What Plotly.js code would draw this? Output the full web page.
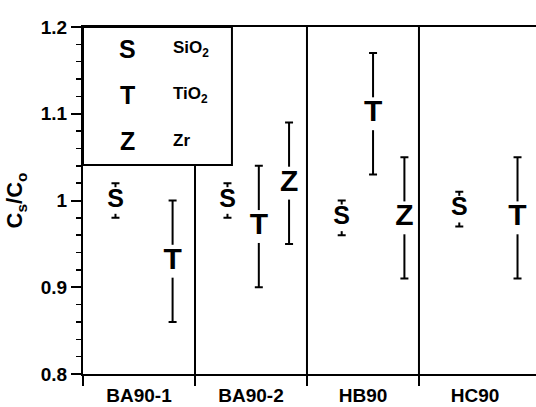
<!DOCTYPE html>
<html>
<head>
<meta charset="utf-8">
<script src="https://cdn.plot.ly/plotly-3.0.1.min.js"></script>
<style>html,body{margin:0;padding:0;background:#fff;}#chart{width:536px;height:407px;}</style>
</head>
<body>
<div id="chart"></div>
<script>
// Samples (categories)
const categories = ['BA90-1', 'BA90-2', 'HB90', 'HC90'];
const categoryCenters = [1, 2, 3, 4];

// SiO2 (S) series
const sX = [0.79, 1.79, 2.81, 3.86];
const sY = [1.00, 1.00, 0.98, 0.99];
const sErr = [0.02, 0.02, 0.02, 0.02];

// TiO2 (T) series
const tX = [1.30, 2.07, 3.09, 4.38];
const tY = [0.93, 0.97, 1.10, 0.98];
const tErr = [0.07, 0.07, 0.07, 0.07];

// Zr (Z) series
const zX = [2.34, 3.37];
const zY = [1.02, 0.98];
const zErr = [0.07, 0.07];

// legend entries
const legendSymbols = ['S', 'T', 'Z'];
const legendNames = ['SiO<sub>2</sub>', 'TiO<sub>2</sub>', 'Zr'];

const FONT = 'Arial, "Liberation Sans", sans-serif';

function errTrace(x, y, e) {
  return {
    x: x, y: y, type: 'scatter', mode: 'markers',
    marker: {size: 1, color: 'rgba(0,0,0,0)'},
    error_y: {type: 'data', array: e, visible: true, color: '#000', thickness: 2, width: 4},
    hoverinfo: 'skip', showlegend: false
  };
}
// white vertical bar behind each letter opens a gap in its error bar
function letterTrace(x, y, letter, gap, fsize) {
  return {
    x: x, y: y, type: 'scatter', mode: 'markers+text',
    text: x.map(() => letter), textposition: 'middle center',
    textfont: {family: FONT, size: fsize, color: '#000', weight: 'bold'},
    marker: {symbol: 'line-ns', size: gap, line: {width: 22, color: '#fff'}, color: '#fff'},
    hoverinfo: 'skip', showlegend: false
  };
}

const traces = [
  errTrace(sX, sY, sErr),
  errTrace(tX, tY, tErr),
  errTrace(zX, zY, zErr),
  letterTrace(sX, sY, 'S', 19, 25),
  letterTrace(tX, tY, 'T', 23.5, 30),
  letterTrace(zX, zY, 'Z', 23.5, 30)
];

// divider lines between samples & legend box
const legendBottom = 1.041, legendRight = 1.83;
const shapes = [
  {type: 'line', xref: 'x', yref: 'y', x0: 1.5, x1: 1.5, y0: 0.8, y1: legendBottom, line: {color: '#000', width: 2}, layer: 'above'},
  {type: 'line', xref: 'x', yref: 'y', x0: 2.5, x1: 2.5, y0: 0.8, y1: 1.2, line: {color: '#000', width: 2}, layer: 'above'},
  {type: 'line', xref: 'x', yref: 'y', x0: 3.5, x1: 3.5, y0: 0.8, y1: 1.2, line: {color: '#000', width: 2}, layer: 'above'},
  {type: 'rect', xref: 'x', yref: 'y', x0: 0.5, x1: legendRight, y0: legendBottom, y1: 1.2, line: {color: '#000', width: 2}, fillcolor: '#fff', layer: 'above'}
];

const legendY = [1.175, 1.122, 1.069];
const annotations = [];
legendSymbols.forEach((s, i) => {
  annotations.push({x: 0.90, y: legendY[i], xref: 'x', yref: 'y', text: s, showarrow: false,
    font: {family: FONT, size: 25, color: '#000', weight: 'bold'}, xanchor: 'center', yanchor: 'middle'});
  annotations.push({x: 1.29, y: legendY[i], xref: 'x', yref: 'y', text: legendNames[i], showarrow: false,
    font: {family: FONT, size: 17, color: '#000', weight: 'bold'}, xanchor: 'left', yanchor: 'middle'});
});

const layout = {
  width: 536, height: 407,
  margin: {l: 83, r: 0, t: 27, b: 33},
  paper_bgcolor: '#fff', plot_bgcolor: '#fff',
  font: {family: FONT, color: '#000'},
  showlegend: false,
  xaxis: {
    range: [0.5, 4.545], showgrid: false, zeroline: false,
    showline: true, mirror: true, linecolor: '#000', linewidth: 2,
    tickmode: 'array', tickvals: [0.5, 1.5, 2.5, 3.5], showticklabels: false,
    ticks: 'outside', ticklen: 10, tickwidth: 2, tickcolor: '#000'
  },
  xaxis2: {
    overlaying: 'x', matching: 'x', range: [0.5, 4.545], side: 'bottom', anchor: 'y',
    showgrid: false, zeroline: false, showline: false,
    tickmode: 'array', tickvals: categoryCenters, ticktext: categories,
    ticks: '', ticklabelstandoff: 8,
    tickfont: {family: FONT, size: 19, color: '#000', weight: 'bold'}
  },
  yaxis: {
    range: [0.8, 1.2], showgrid: false, zeroline: false,
    showline: true, mirror: false, linecolor: '#000', linewidth: 2,
    tickmode: 'linear', tick0: 0.8, dtick: 0.1,
    ticks: 'outside', ticklen: 10, tickwidth: 2, tickcolor: '#000',
    tickfont: {family: FONT, size: 19, color: '#000', weight: 'bold'},
    minor: {tickmode: 'linear', dtick: 0.02, tick0: 0.8, ticks: 'outside', ticklen: 5, tickwidth: 1.5, tickcolor: '#000', showgrid: false},
    title: {text: 'C<sub>s</sub>/C<sub>o</sub>', font: {family: FONT, size: 22, color: '#000', weight: 'bold'}, standoff: 12}
  },
  shapes: shapes,
  annotations: annotations
};

// invisible trace so the label axis is drawn
traces.push({x: [1], y: [0.5], xaxis: 'x2', yaxis: 'y', type: 'scatter', mode: 'markers',
  marker: {opacity: 0}, hoverinfo: 'skip', showlegend: false});

Plotly.newPlot('chart', traces, layout, {staticPlot: true, displayModeBar: false});
</script>
</body>
</html>
